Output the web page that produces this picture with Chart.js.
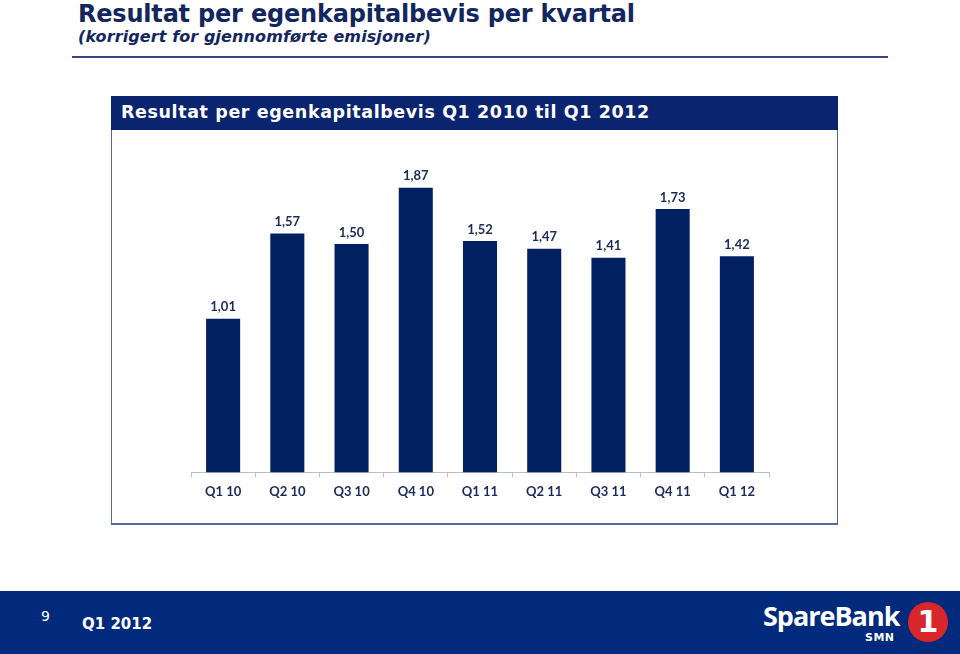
<!DOCTYPE html>
<html>
<head>
<meta charset="utf-8">
<script src="https://cdn.jsdelivr.net/npm/chart.js@4"></script>
<style>
  html, body { margin:0; padding:0; background:#fff; width:960px; height:654px; overflow:hidden; }
  body { position:relative; font-family:"DejaVu Sans", sans-serif; }
  #title { position:absolute; left:78px; top:0px; font:bold 24px "DejaVu Sans"; color:#13275e; white-space:nowrap; letter-spacing:-0.2px; }
  #subtitle { position:absolute; left:78px; top:27px; font:italic bold 16px "DejaVu Sans"; color:#13275e; white-space:nowrap; letter-spacing:0.1px; }
  #rule { position:absolute; left:72px; top:56px; width:816px; height:2px; background:#34467e; }
  #header { position:absolute; left:111px; top:96px; width:727px; height:34px; background:#0a2470; }
  #header span { position:absolute; left:10px; top:6px; font:bold 17.5px "DejaVu Sans"; letter-spacing:0.6px; color:#fff; white-space:nowrap; }
  #frame { position:absolute; left:111px; top:130px; width:725px; height:393px; border:1px solid #56679a; border-top:none; border-bottom:2px solid #56679a; }
  #wrap { position:absolute; left:111px; top:130px; width:727px; height:395px; }
  #footer { position:absolute; left:0; top:591px; width:960px; height:63px; background:#012a7c; }
  #pnum { position:absolute; left:41px; top:17px; font:14px "DejaVu Sans"; color:#fff; }
  #period { position:absolute; left:82px; top:24px; font:bold 15px "DejaVu Sans"; color:#fff; }
  #logo { position:absolute; left:763px; top:6px; font:bold 27px "Open Sans", "DejaVu Sans"; color:#fff; letter-spacing:-1px; }
  #smn { position:absolute; left:865px; top:40px; font:bold 11px "DejaVu Sans"; color:#fff; letter-spacing:0.5px; }
  #one { position:absolute; left:908px; top:11px; width:40px; height:40px; border-radius:50%; background:#d8262b; color:#fff; font:bold 30px "DejaVu Sans"; text-align:center; line-height:40px; }
</style>
</head>
<body>
<div id="title">Resultat per egenkapitalbevis per kvartal</div>
<div id="subtitle">(korrigert for gjennomførte emisjoner)</div>
<div id="rule"></div>
<div id="header"><span>Resultat per egenkapitalbevis Q1 2010 til Q1 2012</span></div>
<div id="frame"></div>
<div id="wrap"><canvas id="c" width="727" height="395"></canvas></div>
<div id="footer">
  <div id="pnum">9</div>
  <div id="period">Q1 2012</div>
  <div id="logo">SpareBank</div>
  <div id="smn">SMN</div>
  <div id="one">1</div>
</div>
<script>
const categories = ["Q1 10","Q2 10","Q3 10","Q4 10","Q1 11","Q2 11","Q3 11","Q4 11","Q1 12"];
const values = [1.01, 1.57, 1.50, 1.87, 1.52, 1.47, 1.41, 1.73, 1.42];
const valueLabels = ["1,01","1,57","1,50","1,87","1,52","1,47","1,41","1,73","1,42"];

const labelPlugin = {
  id: 'barLabels',
  afterDatasetsDraw(chart) {
    const ctx = chart.ctx;
    const meta = chart.getDatasetMeta(0);
    ctx.save();
    ctx.font = 'bold 13px Lato, "Liberation Sans", sans-serif';
    ctx.fillStyle = '#1b2a5a';
    ctx.textAlign = 'center';
    ctx.textBaseline = 'bottom';
    meta.data.forEach((bar, i) => {
      ctx.fillText(valueLabels[i], bar.x, bar.y - 5);
    });
    ctx.restore();
  }
};

new Chart(document.getElementById('c'), {
  type: 'bar',
  data: {
    labels: categories,
    datasets: [{
      data: values,
      backgroundColor: '#002060',
      borderWidth: 0,
      barPercentage: 0.53,
      categoryPercentage: 1.0
    }]
  },
  options: {
    responsive: false,
    animation: false,
    devicePixelRatio: 1,
    layout: { padding: { left: 80, right: 69, top: 38, bottom: 18 } },
    plugins: { legend: { display: false }, tooltip: { enabled: false } },
    scales: {
      x: {
        offset: true,
        border: { display: true, color: '#bfbfbf', width: 1 },
        grid: { display: true, offset: true, drawOnChartArea: false, drawTicks: true, tickLength: 5, color: '#bfbfbf' },
        ticks: { color: '#1b2a5a', font: { family: 'Lato', weight: 'bold', size: 13 }, padding: 7, maxRotation: 0 }
      },
      y: {
        display: false,
        min: 0,
        max: 2.0
      }
    }
  },
  plugins: [labelPlugin]
});
</script>
</body>
</html>
